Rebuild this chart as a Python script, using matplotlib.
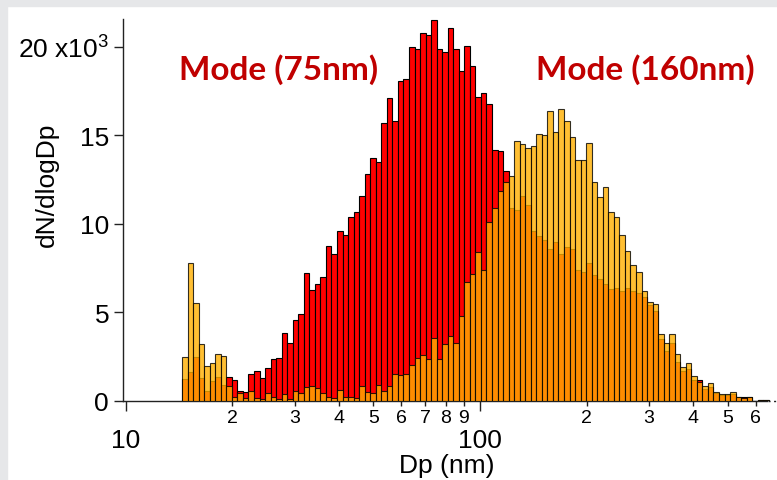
import numpy as np
import matplotlib
matplotlib.use('Agg')
import matplotlib.pyplot as plt
from matplotlib.patches import Rectangle
from matplotlib.ticker import FixedLocator, FixedFormatter

plt.rcParams['font.family'] = ['Liberation Sans', 'DejaVu Sans']
plt.rcParams['mathtext.default'] = 'regular'

# SMPS channels: 64 per decade, first lower edge at 14.42 nm
first_edge_nm = 14.42
channels_per_decade = 64

# dN/dlogDp in units of 10^3, one value per channel
mode_160 = [2.47, 7.78, 5.52, 3.22, 1.96, 2.13, 2.64, 2.56, 0.83, 0.24,
            0.43, 0.19, 0.58, 0.15, 0.1, 0.45, 0.24, 0.1, 0.4, 0.1,
            0.58, 0.43, 0.8, 0.85, 0.75, 0.45, 0.24, 0.15, 0.64, 0.2,
            0.2, 0.15, 0.83, 0.53, 0.47, 0.9, 0.58, 0.86, 1.53, 1.47,
            1.53, 2.03, 2.43, 2.62, 2.37, 3.56, 2.37, 3.22, 3.69, 3.28,
            4.82, 6.74, 7.2, 8.4, 7.4, 10.1, 10.9, 11.85, 12.35, 12.7,
            14.7, 14.5, 14.3, 14.4, 15.1, 15.0, 16.4, 15.2, 16.5, 15.8,
            14.9, 13.6, 13.6, 14.6, 12.4, 11.5, 12.1, 10.7, 10.4, 9.4,
            8.5, 7.7, 7.3, 6.2, 5.6, 5.5, 3.8, 3.3, 3.8, 2.65,
            1.9, 2.13, 1.43, 1.05, 0.86, 1.0, 0.53, 0.4, 0.4, 0.49,
            0.24, 0.15, 0.24, 0.0, 0.06, 0.06]

mode_75 = [1.24, 1.62, 2.47, 1.3, 0.55, 1.11, 1.37, 0.92, 1.37, 1.2,
           0.58, 0.51, 1.54, 1.68, 1.3, 1.88, 2.37, 2.45, 3.84, 3.28,
           4.58, 4.93, 7.25, 6.29, 6.61, 6.99, 8.74, 8.3, 9.6, 9.4,
           10.4, 10.7, 11.6, 12.8, 13.7, 13.5, 15.7, 17.1, 15.8, 18.1,
           18.2, 20.0, 19.9, 20.8, 20.7, 21.5, 19.9, 19.7, 21.05, 19.9,
           18.66, 20.06, 18.9, 17.2, 17.4, 16.8, 14.2, 14.1, 13.0, 10.9,
           10.8, 11.6, 11.1, 9.6, 9.3, 9.1, 8.6, 9.0, 8.3, 8.7,
           8.6, 7.4, 7.3, 7.8, 7.1, 6.9, 6.6, 6.3, 6.4, 6.2,
           6.4, 6.2, 6.1, 5.9, 5.4, 5.1, 3.5, 2.8, 3.3, 2.2,
           1.7, 1.8, 1.2, 1.19, 0.7, 0.8, 0.45, 0.35, 0.33, 0.4,
           0.22, 0.24, 0.2, 0.0, 0.06, 0.06]

yticks = [0, 5, 10, 15, 20]
ytick_labels = ['0', '5', '10', '15', '20 x10$^{3}$']
major_xticks = [10, 100]
major_xlabels = ['10', '100']
minor_xticks = [20, 30, 40, 50, 60, 70, 80, 90, 200, 300, 400, 500, 600]
minor_xlabels = ['2', '3', '4', '5', '6', '7', '8', '9', '2', '3', '4', '5', '6']

n = len(mode_160)
edges = first_edge_nm * 10 ** (np.arange(n + 1) / channels_per_decade)
widths = np.diff(edges)

W, H = 777, 481
fig = plt.figure(figsize=(W / 100, H / 100), dpi=100)
fig.patches.append(Rectangle((0, 1 - 7 / H), 1, 7 / H, transform=fig.transFigure,
                             color='#e6e7e9', zorder=-1))
fig.patches.append(Rectangle((0, 0), 7 / W, 1, transform=fig.transFigure,
                             color='#e6e7e9', zorder=-1))

ax = fig.add_axes([123 / W, (H - 402) / H, 1 - 123 / W, (402 - 20) / H])
ax.patch.set_alpha(0)

ax.bar(edges[:-1], mode_75, width=widths, align='edge', color='#ff0000',
       edgecolor='black', linewidth=0.8, zorder=2)
ax.bar(edges[:-1], mode_160, width=widths, align='edge', color=(1.0, 0.69, 0.0),
       edgecolor='black', linewidth=0.8, alpha=0.8, zorder=3)

ax.set_xscale('log')
x_left = 10 ** (1 + (123 - 125.7) / 354.3)
x_right = 10 ** (1 + (777 - 125.7) / 354.3)
x_axis_end = 10 ** (1 + (767 - 125.7) / 354.3)
ax.set_xlim(x_left, x_right)
ax.set_ylim(0, 21.58)

for s in ['top', 'right']:
    ax.spines[s].set_visible(False)
for s in ['left', 'bottom']:
    ax.spines[s].set_color('#222222')
    ax.spines[s].set_linewidth(1.0)
ax.spines['bottom'].set_bounds(x_left, x_axis_end)
ax.plot([x_axis_end * 1.008, x_right], [0, 0], color='#222222', lw=1.0,
        ls=(0, (1.5, 2.5)), clip_on=False, zorder=4)

ax.xaxis.set_major_locator(FixedLocator(major_xticks))
ax.xaxis.set_major_formatter(FixedFormatter(major_xlabels))
ax.xaxis.set_minor_locator(FixedLocator(minor_xticks))
ax.xaxis.set_minor_formatter(FixedFormatter(minor_xlabels))
ax.tick_params(axis='x', which='major', length=7.2, width=1.0, pad=12,
               labelsize=19, color='#222222')
ax.tick_params(axis='x', which='minor', length=3.8, width=1.0, pad=2,
               labelsize=14, color='#222222')

ax.set_yticks(yticks)
ax.set_yticklabels(ytick_labels)
ax.tick_params(axis='y', length=6.5, width=1.0, pad=3.5, labelsize=19,
               color='#222222')

fig.text(47 / W, 1 - 185 / H, 'dN/dlogDp', rotation=90, fontsize=19,
         ha='center', va='center')
fig.text(447 / W, 1 - 466 / H, 'Dp (nm)', fontsize=19, ha='center', va='center')

fig.text(279 / W, 1 - 70 / H, 'Mode (75nm)', fontsize=24, color='#c00000',
         family='Lato', weight='bold', ha='center', va='center')
fig.text(645 / W, 1 - 70 / H, 'Mode (160nm)', fontsize=24, color='#c00000',
         family='Lato', weight='bold', ha='center', va='center')

fig.savefig('out.png', dpi=100)
